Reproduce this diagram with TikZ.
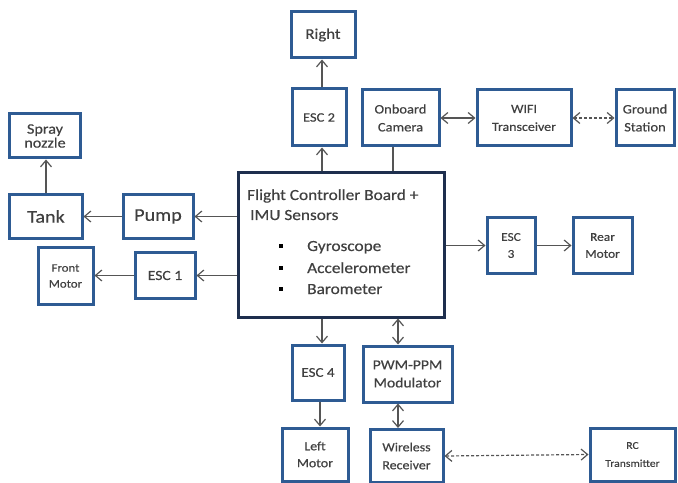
\documentclass[tikz,border=0pt]{standalone}
\usepackage{fontspec}
\setmainfont{Carlito}[FakeStretch=1.12,FakeBold=0.4]
\usetikzlibrary{arrows.meta}
\definecolor{boxblue}{HTML}{2E5B93}
\definecolor{navy}{HTML}{1E2F4E}
\definecolor{txt}{HTML}{404040}
\definecolor{ln}{HTML}{555555}
\tikzset{
  blk/.style={draw=boxblue, line width=3bp, fill=white, text=txt, align=center, inner sep=1pt},
  arr/.style={draw=ln, line width=1.2bp, -{Straight Barb[length=6.5bp,width=11bp]}},
  barr/.style={draw=ln, line width=1.2bp, {Straight Barb[length=6.5bp,width=11bp]}-{Straight Barb[length=6.5bp,width=11bp]}},
  darr/.style={barr, dash pattern=on 3bp off 2bp},
  plain/.style={draw=ln, line width=1.2bp},
  ftxt/.style={text=txt, inner sep=0pt, anchor=base west, font=\fontsize{15.5}{16}\selectfont},
  bul/.style={fill=black, inner sep=0pt, minimum size=4bp}
}
\begin{document}
\begin{tikzpicture}[x=1bp,y=-1bp]
\useasboundingbox (0,0) rectangle (678,483);
% boxes
\node[blk, minimum width=70bp, minimum height=44bp, font=\fontsize{14.5}{15}\selectfont] (spray) at (45,136) {Spray\\[-1pt]nozzle};
\node[blk, minimum width=72bp, minimum height=43bp, font=\fontsize{18}{19}\selectfont] (tank) at (46,216.5) {Tank};
\node[blk, minimum width=70bp, minimum height=43bp, font=\fontsize{18}{19}\selectfont] (pump) at (158,216.5) {Pump};
\node[blk, minimum width=55bp, minimum height=56bp, font=\fontsize{11.5}{16}\selectfont] (front) at (65.5,276) {Front\\Motor};
\node[blk, minimum width=60bp, minimum height=45bp, font=\fontsize{14}{15}\selectfont] (esc1) at (165,275.5) {ESC 1};
\node[blk, draw=navy, line width=3bp, minimum width=206bp, minimum height=144bp] (fc) at (341,245) {};
\node[blk, minimum width=64bp, minimum height=46bp, font=\fontsize{15}{16}\selectfont] (right) at (323,35) {Right};
\node[blk, minimum width=54bp, minimum height=57bp, font=\fontsize{13}{14}\selectfont] (esc2) at (319,117.5) {ESC 2};
\node[blk, minimum width=77bp, minimum height=56bp, font=\fontsize{13}{18}\selectfont] (cam) at (400.5,118) {Onboard\\Camera};
\node[blk, minimum width=94bp, minimum height=56bp, font=\fontsize{12.5}{18}\selectfont] (wifi) at (524,118) {WIFI\\Transceiver};
\node[blk, minimum width=58bp, minimum height=56bp, font=\fontsize{13}{18}\selectfont] (ground) at (645,118) {Ground\\Station};
\node[blk, minimum width=48bp, minimum height=55bp, font=\fontsize{12}{17}\selectfont] (esc3) at (511,245.5) {ESC\\3};
\node[blk, minimum width=59bp, minimum height=55bp, font=\fontsize{12}{17}\selectfont] (rear) at (602.5,245.5) {Rear\\Motor};
\node[blk, minimum width=52bp, minimum height=55bp, font=\fontsize{13.5}{15}\selectfont] (esc4) at (318,372.5) {ESC 4};
\node[blk, minimum width=89bp, minimum height=56bp, font=\fontsize{14}{18}\selectfont] (pwm) at (407.5,374) {PWM-PPM\\Modulator};
\node[blk, minimum width=66bp, minimum height=53bp, font=\fontsize{12.5}{17}\selectfont] (left) at (315,454.5) {Left\\Motor};
\node[blk, minimum width=73bp, minimum height=53bp, font=\fontsize{12.5}{18}\selectfont] (wrx) at (406.5,456) {Wireless\\Receiver};
\node[blk, minimum width=85bp, minimum height=53bp, font=\fontsize{10.5}{18}\selectfont] (rc) at (632.5,454.5) {RC\\Transmitter};
% flight controller text
\node[ftxt] (fc1) at (247,200) {Flight Controller Board +};
\node[ftxt] (fc2) at (250,220) {IMU Sensors};
\node[ftxt] (g1) at (307,251) {Gyroscope};
\node[ftxt] (g2) at (307,273) {Accelerometer};
\node[ftxt] (g3) at (307,294) {Barometer};
\node[bul] (b1) at (281,246) {};
\node[bul] (b2) at (281,268) {};
\node[bul] (b3) at (281,289) {};
% connectors
\draw[arr] (fc.west |- pump.east) -- (pump.east);
\draw[arr] (pump.west) -- (tank.east);
\draw[arr] (tank.north) -- (tank.north |- spray.south);
\draw[arr] (fc.west |- esc1.east) -- (esc1.east);
\draw[arr] (esc1.west) -- (front.east |- esc1.west);
\coordinate (x2) at (322,0);
\draw[arr] (x2 |- fc.north) -- (x2 |- esc2.south);
\draw[arr] (x2 |- esc2.north) -- (x2 |- right.south);
\coordinate (xc) at (393,0);
\draw[plain] (xc |- cam.south) -- (xc |- fc.north);
\draw[barr] (cam.east) -- (wifi.west);
\draw[darr] (wifi.east) -- (ground.west);
\draw[arr] (fc.east |- esc3.west) -- (esc3.west);
\draw[arr] (esc3.east) -- (rear.west);
\draw[arr] (x2 |- fc.south) -- (x2 |- esc4.north);
\coordinate (x4) at (320,0);
\draw[arr] (x4 |- esc4.south) -- (x4 |- left.north);
\coordinate (xp) at (398,0);
\draw[barr] (xp |- fc.south) -- (xp |- pwm.north);
\draw[barr] (xp |- pwm.south) -- (xp |- wrx.north);
\draw[darr] (wrx.east) -- (rc.west);
\end{tikzpicture}
\end{document}
